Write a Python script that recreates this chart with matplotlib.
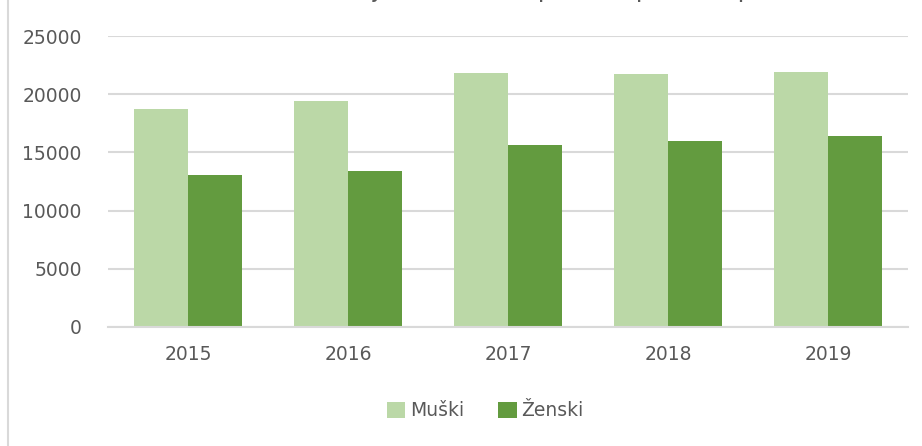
import matplotlib.pyplot as plt
import numpy as np
from matplotlib.lines import Line2D

# Data
years = ['2015', '2016', '2017', '2018', '2019']
muski = [18750, 19450, 21800, 21750, 21900]
zenski = [13100, 13400, 15600, 16000, 16400]
series_names = ['Muški', 'Ženski']
title = 'Grafikon 1. Broj studenata upisanih prema spolu'

light = '#BBD8A7'
dark = '#639B3F'
grid = '#D9D9D9'
txt = '#595959'

plt.rcParams['font.family'] = ['DejaVu Sans']

W, H = 922, 446
fig = plt.figure(figsize=(W / 100, H / 100), dpi=100)
ax = fig.add_axes([108 / W, (H - 327) / H, 800 / W, 291 / H])

x = np.arange(len(years))
w = 54 / 160
ax.bar(x - w / 2, muski, w, color=light, label=series_names[0], zorder=2)
ax.bar(x + w / 2, zenski, w, color=dark, label=series_names[1], zorder=2)

ax.set_xlim(-0.5, len(years) - 0.5)
ax.set_ylim(0, 25000)
ax.set_yticks(np.arange(0, 25001, 5000))
ax.set_xticks(x)
ax.set_xticklabels(years)
ax.yaxis.grid(True, color=grid, linewidth=1.5, zorder=0)
for s in ['top', 'right', 'left']:
    ax.spines[s].set_visible(False)
ax.spines['bottom'].set_color(grid)
ax.spines['bottom'].set_linewidth(1.5)
ax.spines['bottom'].set_zorder(3)
ax.tick_params(axis='both', length=0, labelsize=13.5, labelcolor=txt)
ax.tick_params(axis='y', pad=19)
ax.tick_params(axis='x', pad=13)

# legend below the plot
ax.legend(loc='center', bbox_to_anchor=((485 - 108) / 800, (327 - 411) / 291),
          ncol=2, frameon=False, fontsize=13.5, labelcolor=txt, handlelength=1.0, handleheight=1.0,
          handletextpad=0.25, columnspacing=1.8)

# title, mostly cut off by the top edge of the picture (as in the source image)
fig.text(488 / W, 1 + 3 / H, title, ha='center', va='baseline', fontsize=18, color=txt)

# chart border on the left
fig.add_artist(Line2D([7.5 / W, 7.5 / W], [0, 1], color=grid, linewidth=1.5))

fig.savefig('out.png', dpi=100)
